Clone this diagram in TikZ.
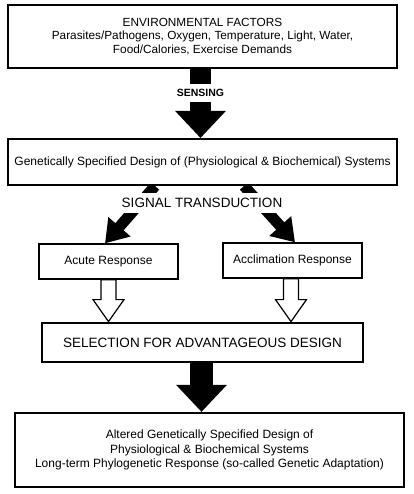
\documentclass[tikz,border=0pt]{standalone}
\usepackage{fontspec}
\setmainfont{Liberation Sans}
\usetikzlibrary{positioning,arrows.meta,calc}

\newcommand{\hollowarrow}[2]{%
  \draw[line width=1.2pt,fill=white,line join=miter]
    let \p1=(#1), \p2=(#2) in
    (\x1-7.5pt,\y1) -- (\x1-7.5pt,\y2+22pt) -- (\x1-15.5pt,\y2+22pt)
    -- (\x1,\y2) -- (\x1+15.5pt,\y2+22pt) -- (\x1+7.5pt,\y2+22pt)
    -- (\x1+7.5pt,\y1) -- cycle;}

\begin{document}
\begin{tikzpicture}[x=1pt,y=-1pt,
  box/.style={draw,line width=1.3pt,align=center,inner sep=0pt,font=\fontsize{12}{14.5}\selectfont},
  fat/.style={line width=21pt,-{Triangle[width=49pt,length=27pt]}},
  diag/.style={line width=11pt,-{Triangle[width=28pt,length=22pt]}},
  lbl/.style={fill=white,inner xsep=3pt,inner ysep=5pt,font=\fontsize{13.5}{15}\selectfont}]
  \useasboundingbox (0,0) rectangle (413,494);

  \node[box,line width=2pt,minimum width=389pt,minimum height=63pt,font=\fontsize{11.8}{13.7}\selectfont] (env) at (202.5,36.5)
    {ENVIRONMENTAL FACTORS\\Parasites/Pathogens, Oxygen, Temperature, Light, Water,\\Food/Calories, Exercise Demands};
  \node[box,line width=2pt,minimum width=389pt,minimum height=46pt] (design) at (202.5,162)
    {Genetically Specified Design of (Physiological \& Biochemical) Systems};
  \node[box,minimum width=139pt,minimum height=35pt] (acute) at (108.5,261.5) {Acute Response};
  \node[box,minimum width=139pt,minimum height=35pt] (acclim) at (292.5,260.5) {Acclimation Response};
  \node[box,line width=2.8pt,minimum width=321pt,minimum height=39pt,font=\fontsize{13.5}{15}\selectfont] (select) at (202.5,342.5)
    {SELECTION FOR ADVANTAGEOUS DESIGN};
  \node[box,line width=2.2pt,minimum width=389pt,minimum height=74pt] (altered) at (209.5,450)
    {Altered Genetically Specified Design of\\Physiological \& Biochemical Systems\\Long-term Phylogenetic Response (so-called Genetic Adaptation)};

  \draw[fat] ([xshift=-2pt]env.south) -- node[lbl,pos=0.35,font=\fontsize{10.5}{13}\selectfont\bfseries] (sensing) {SENSING}
    ([xshift=-2pt]design.north);

  \begin{scope}
    \clip ([xshift=-20pt]design.south west) rectangle (413,300);
    \draw[diag] ([xshift=-47.5pt]design.south) -- ([xshift=-3.5pt]acute.north);
    \draw[diag] ([xshift=41.5pt]design.south) -- ([xshift=2.5pt]acclim.north);
  \end{scope}
  \node[lbl] (signal) at (202,203) {SIGNAL TRANSDUCTION};

  \hollowarrow{acute.south}{acute.south|-select.north}
  \hollowarrow{[xshift=-1.5pt]acclim.south}{[xshift=-1.5pt]acclim.south|-select.north}

  \draw[fat,line width=23pt] ([xshift=-1pt]select.south) -- ([xshift=-8pt]altered.north);
\end{tikzpicture}
\end{document}
